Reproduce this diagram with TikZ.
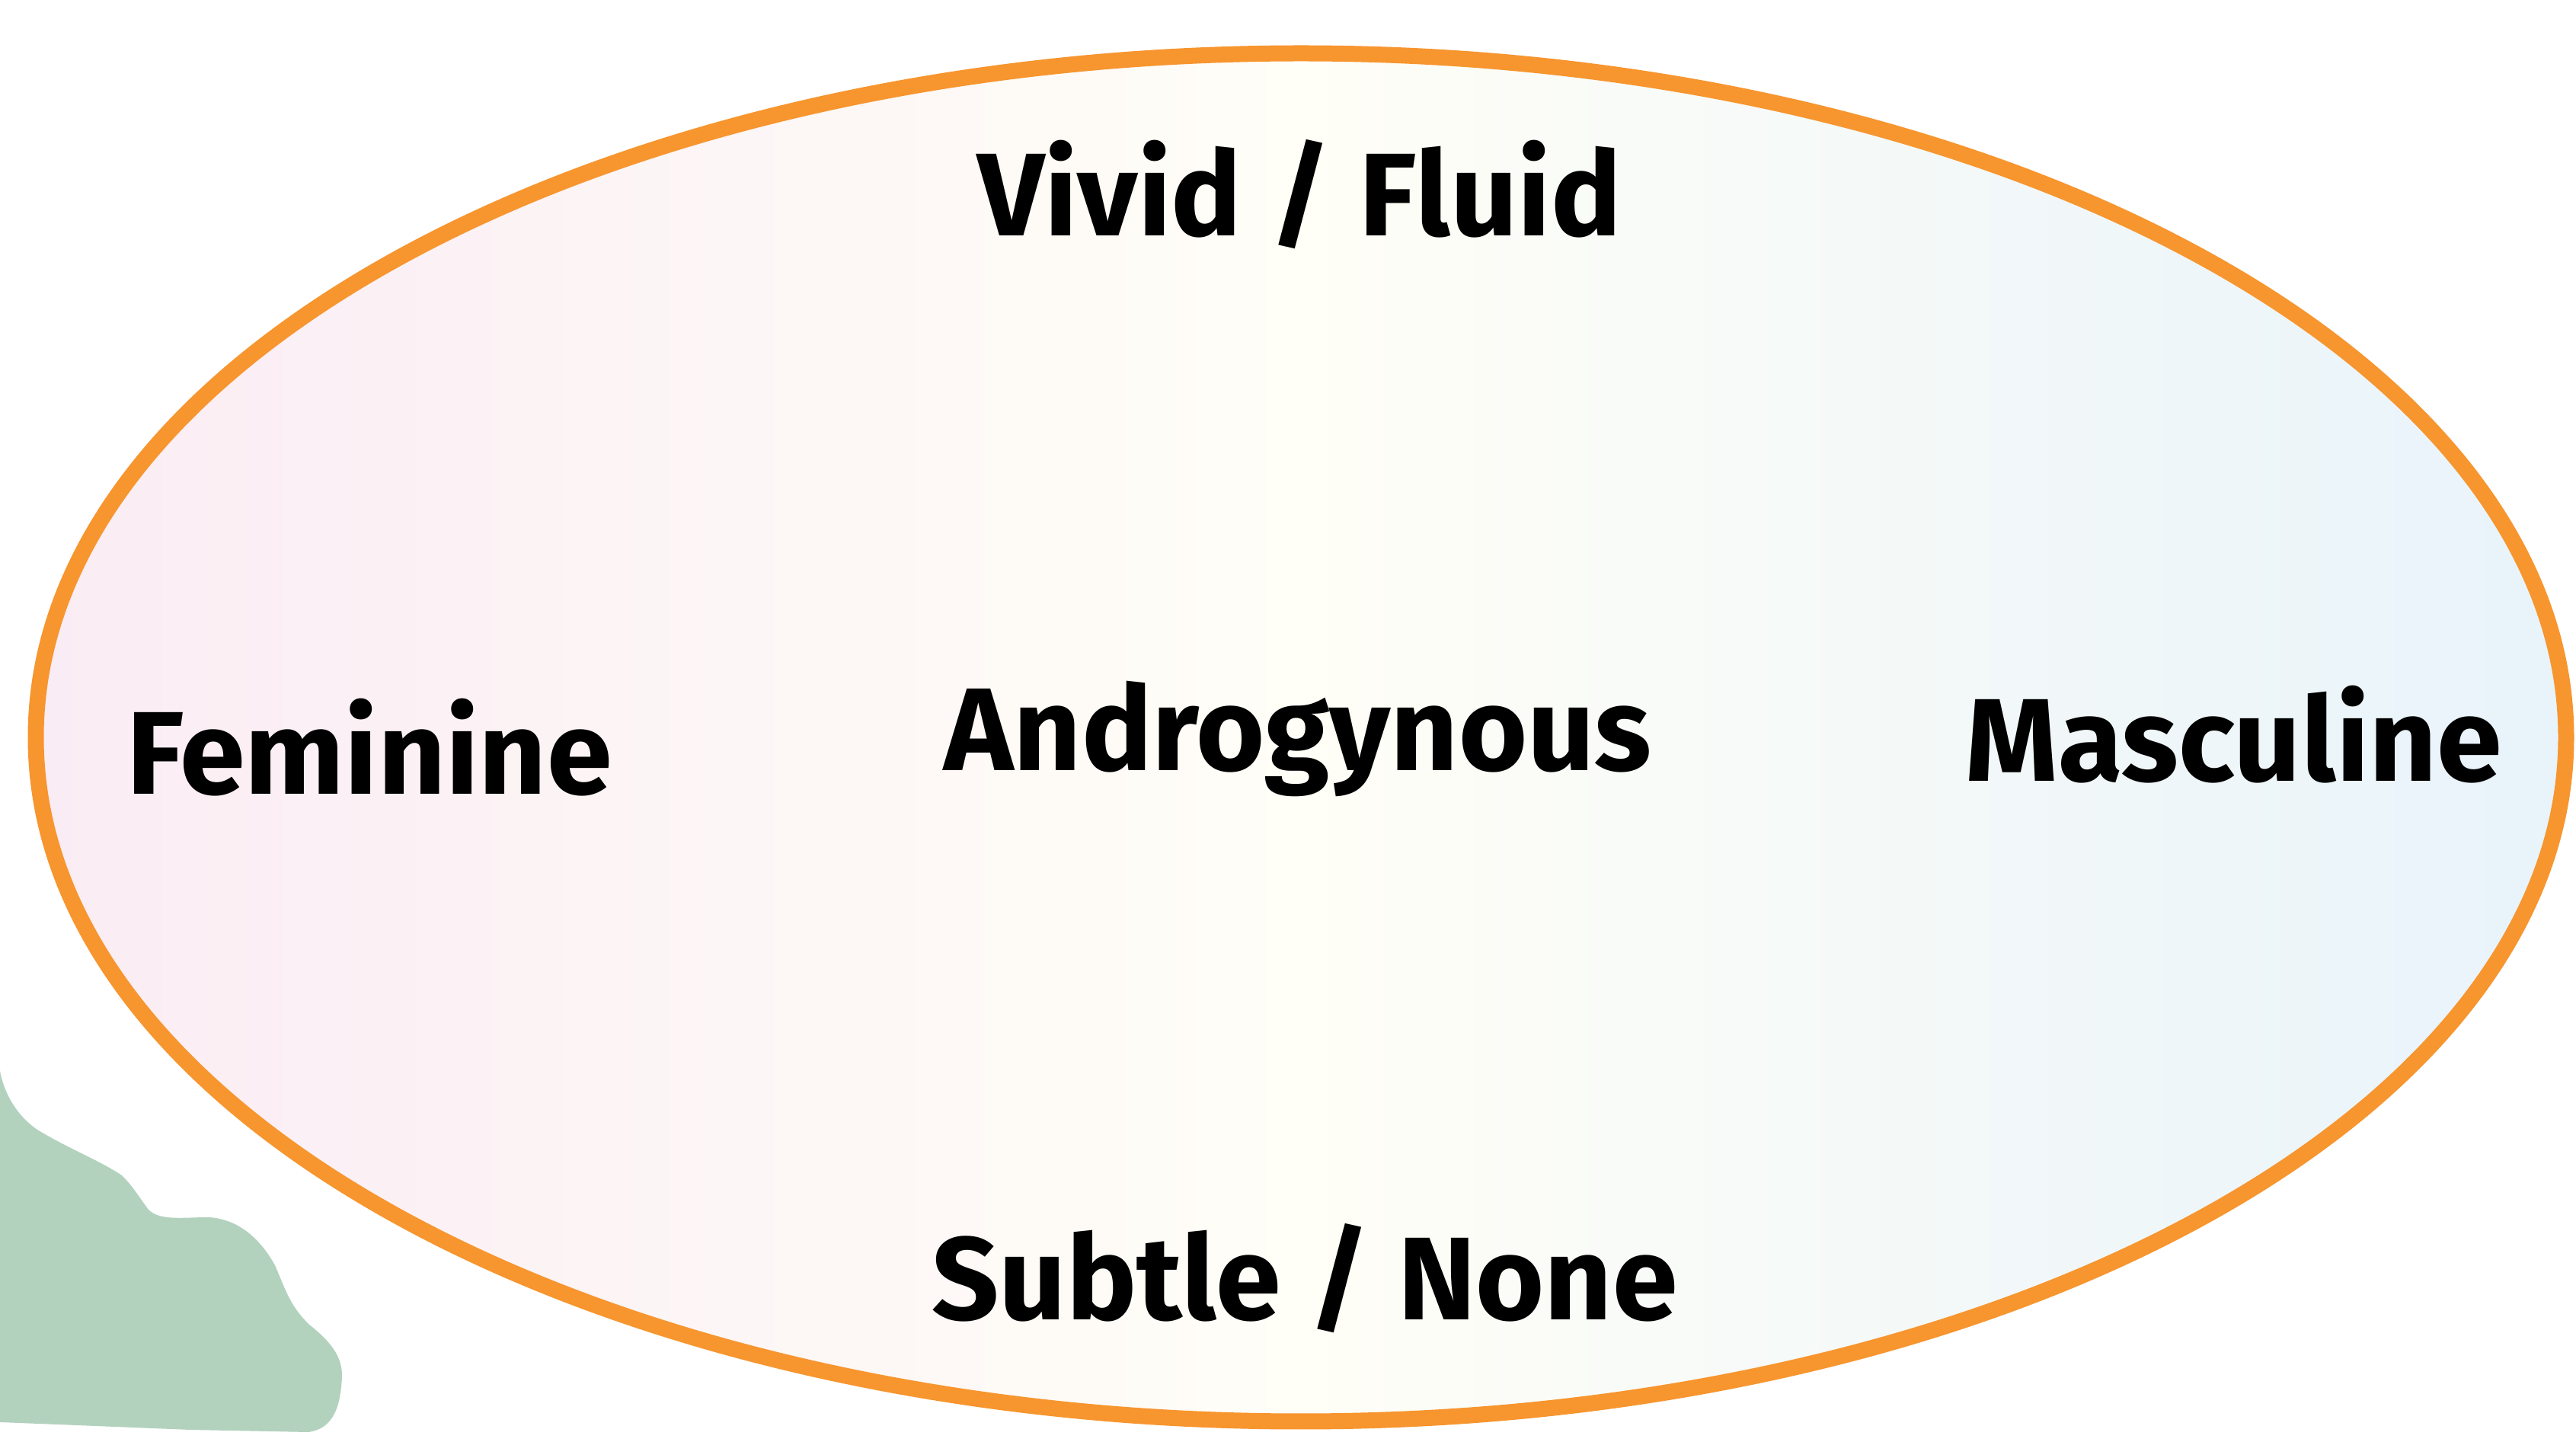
\documentclass[tikz,border=0pt]{standalone}
\usepackage{fontspec}
\setmainfont{Fira Sans}
\definecolor{ringorange}{HTML}{F7952E}
\definecolor{leftpink}{HTML}{FAECF4}
\definecolor{midcream}{HTML}{FFFEF7}
\definecolor{rightblue}{HTML}{E8F3FA}
\definecolor{blobgreen}{HTML}{B3D2BE}
\tikzset{
  lbl/.style={font=\fontsize{44}{48}\selectfont\bfseries, text=black, inner sep=0pt, anchor=center},
}
\begin{document}
\begin{tikzpicture}[x=1cm,y=1cm]
\useasboundingbox (0,0) rectangle (33.82,18.93);
\fill[white] (0,0) rectangle (33.82,18.93);
% green blob
\fill[blobgreen] (0,4.87) .. controls (0.05,4.6) and (0.2,4.3) .. (0.49,4.10)
  .. controls (0.9,3.85) and (1.3,3.7) .. (1.60,3.50)
  .. controls (1.75,3.35) and (1.8,3.25) .. (1.95,3.05)
  .. controls (2.1,2.9) and (2.4,2.95) .. (2.74,2.95)
  .. controls (3.1,2.93) and (3.4,2.7) .. (3.61,2.32)
  .. controls (3.75,2.0) and (3.8,1.8) .. (4.05,1.55)
  .. controls (4.3,1.35) and (4.5,1.15) .. (4.49,0.85)
  .. controls (4.47,0.5) and (4.4,0.18) .. (4.05,0.13)
  -- (2.5,0.16) -- (0.76,0.23) -- (0,0.26) -- cycle;
% ellipse
\shade[left color=leftpink, right color=rightblue, middle color=midcream] (17.08,9.25) ellipse [x radius=16.61cm, y radius=8.98cm];
\draw[ringorange, line width=0.21cm] (17.08,9.25) ellipse [x radius=16.61cm, y radius=8.98cm];
\node[lbl] (top) at (17.06,16.38) {Vivid / Fluid};
\node[lbl] (fem) at (4.85,9.12) {Feminine};
\node[lbl] (andro) at (17.04,9.23) {Androgynous};
\node[lbl] (masc) at (29.33,9.29) {Masculine};
\node[lbl] (bot) at (17.13,2.15) {Subtle / None};
\end{tikzpicture}
\end{document}
